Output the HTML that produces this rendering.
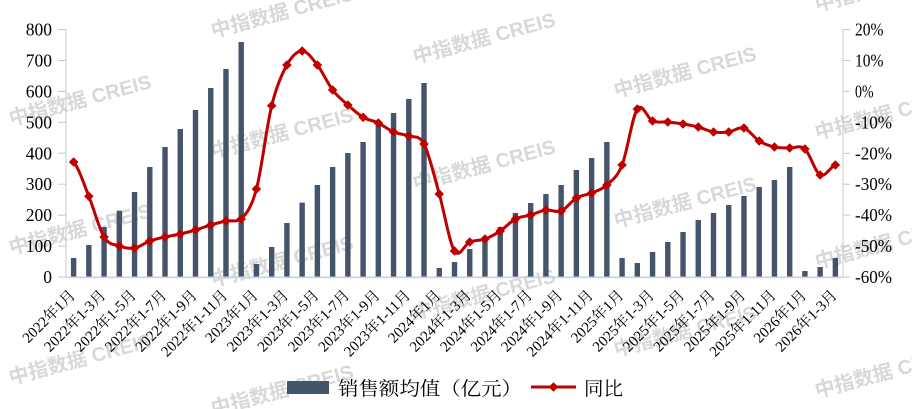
<!DOCTYPE html>
<html><head><meta charset="utf-8"><style>
html,body{margin:0;padding:0;background:#fff;}
svg{display:block;}
.wm{font-family:"Liberation Sans","Noto Sans CJK SC",sans-serif;font-weight:bold;font-size:20px;fill:#d8d8d8;}
.ax{font-family:"Liberation Serif","Noto Serif CJK SC",serif;font-size:17.5px;fill:#000;}
.xl{font-family:"Liberation Serif","Noto Serif CJK SC",serif;font-size:15px;fill:#000;}
.lg{font-family:"Liberation Serif","Noto Serif CJK SC",serif;font-size:19px;fill:#000;}
</style></head><body>
<svg width="912" height="409" viewBox="0 0 912 409" xmlns="http://www.w3.org/2000/svg">
<rect width="912" height="409" fill="#fff"/>
<!-- watermarks -->
<g class="wm" text-anchor="middle">
<text transform="translate(80,100) rotate(-15)" y="7">中指数据 CREIS</text>
<text transform="translate(80,229) rotate(-15)" y="7">中指数据 CREIS</text>
<text transform="translate(80,359) rotate(-15)" y="7">中指数据 CREIS</text>
<text transform="translate(282,12) rotate(-15)" y="7">中指数据 CREIS</text>
<text transform="translate(282,133) rotate(-15)" y="7">中指数据 CREIS</text>
<text transform="translate(282,261) rotate(-15)" y="7">中指数据 CREIS</text>
<text transform="translate(282,390) rotate(-15)" y="7">中指数据 CREIS</text>
<text transform="translate(484,38) rotate(-15)" y="7">中指数据 CREIS</text>
<text transform="translate(484,165) rotate(-15)" y="7">中指数据 CREIS</text>
<text transform="translate(484,294) rotate(-15)" y="7">中指数据 CREIS</text>
<text transform="translate(685,72) rotate(-15)" y="7">中指数据 CREIS</text>
<text transform="translate(685,202) rotate(-15)" y="7">中指数据 CREIS</text>
<text transform="translate(685,331) rotate(-15)" y="7">中指数据 CREIS</text>
<text transform="translate(886,-14) rotate(-15)" y="7">中指数据 CREIS</text>
<text transform="translate(886,114) rotate(-15)" y="7">中指数据 CREIS</text>
<text transform="translate(886,243) rotate(-15)" y="7">中指数据 CREIS</text>
<text transform="translate(886,372) rotate(-15)" y="7">中指数据 CREIS</text>
</g>

<!-- axes -->
<g stroke="#c8c8c8" stroke-width="1" fill="none">
<line x1="66" y1="29.5" x2="66" y2="277"/>
<line x1="58" y1="29.5" x2="66" y2="29.5"/>
<line x1="58" y1="60.44" x2="66" y2="60.44"/>
<line x1="58" y1="91.38" x2="66" y2="91.38"/>
<line x1="58" y1="122.31" x2="66" y2="122.31"/>
<line x1="58" y1="153.25" x2="66" y2="153.25"/>
<line x1="58" y1="184.19" x2="66" y2="184.19"/>
<line x1="58" y1="215.13" x2="66" y2="215.13"/>
<line x1="58" y1="246.06" x2="66" y2="246.06"/>
<line x1="58" y1="277" x2="66" y2="277"/>
<line x1="843" y1="29.5" x2="843" y2="277"/>
<line x1="843" y1="29.5" x2="850" y2="29.5"/>
<line x1="843" y1="60.44" x2="850" y2="60.44"/>
<line x1="843" y1="91.38" x2="850" y2="91.38"/>
<line x1="843" y1="122.31" x2="850" y2="122.31"/>
<line x1="843" y1="153.25" x2="850" y2="153.25"/>
<line x1="843" y1="184.19" x2="850" y2="184.19"/>
<line x1="843" y1="215.13" x2="850" y2="215.13"/>
<line x1="843" y1="246.06" x2="850" y2="246.06"/>
<line x1="843" y1="277" x2="850" y2="277"/>
</g>

<!-- left axis labels -->
<g class="ax" text-anchor="end">
<text x="52" y="35.5">800</text>
<text x="52" y="66.44">700</text>
<text x="52" y="97.38">600</text>
<text x="52" y="128.31">500</text>
<text x="52" y="159.25">400</text>
<text x="52" y="190.19">300</text>
<text x="52" y="221.13">200</text>
<text x="52" y="252.06">100</text>
<text x="52" y="283">0</text>
</g>
<!-- right axis labels -->
<g class="ax">
<text x="855" y="35.5" textLength="28.5" lengthAdjust="spacingAndGlyphs">20%</text>
<text x="855" y="66.44" textLength="28.5" lengthAdjust="spacingAndGlyphs">10%</text>
<text x="855" y="97.38" textLength="18.5" lengthAdjust="spacingAndGlyphs">0%</text>
<text x="855" y="128.31" textLength="37" lengthAdjust="spacingAndGlyphs">-10%</text>
<text x="855" y="159.25" textLength="37" lengthAdjust="spacingAndGlyphs">-20%</text>
<text x="855" y="190.19" textLength="37" lengthAdjust="spacingAndGlyphs">-30%</text>
<text x="855" y="221.13" textLength="37" lengthAdjust="spacingAndGlyphs">-40%</text>
<text x="855" y="252.06" textLength="37" lengthAdjust="spacingAndGlyphs">-50%</text>
<text x="855" y="283" textLength="37" lengthAdjust="spacingAndGlyphs">-60%</text>
</g>

<!-- bars -->
<g fill="#44546a">
<rect x="70.92" y="258" width="5.4" height="19"/>
<rect x="86.15" y="245" width="5.4" height="32"/>
<rect x="101.39" y="227" width="5.4" height="50"/>
<rect x="116.62" y="210.7" width="5.4" height="66.3"/>
<rect x="131.86" y="192" width="5.4" height="85"/>
<rect x="147.09" y="167" width="5.4" height="110"/>
<rect x="162.33" y="147" width="5.4" height="130"/>
<rect x="177.56" y="129" width="5.4" height="148"/>
<rect x="192.80" y="110" width="5.4" height="167"/>
<rect x="208.04" y="88" width="5.4" height="189"/>
<rect x="223.27" y="69" width="5.4" height="208"/>
<rect x="238.51" y="42" width="5.4" height="235"/>
<rect x="253.74" y="264" width="5.4" height="13"/>
<rect x="268.98" y="247" width="5.4" height="30"/>
<rect x="284.21" y="223" width="5.4" height="54"/>
<rect x="299.45" y="202.7" width="5.4" height="74.3"/>
<rect x="314.68" y="185" width="5.4" height="92"/>
<rect x="329.92" y="167" width="5.4" height="110"/>
<rect x="345.15" y="153" width="5.4" height="124"/>
<rect x="360.39" y="142" width="5.4" height="135"/>
<rect x="375.62" y="124" width="5.4" height="153"/>
<rect x="390.86" y="113" width="5.4" height="164"/>
<rect x="406.09" y="99" width="5.4" height="178"/>
<rect x="421.33" y="83" width="5.4" height="194"/>
<rect x="436.56" y="268" width="5.4" height="9"/>
<rect x="451.80" y="262" width="5.4" height="15"/>
<rect x="467.04" y="249" width="5.4" height="28"/>
<rect x="482.27" y="238" width="5.4" height="39"/>
<rect x="497.51" y="227" width="5.4" height="50"/>
<rect x="512.74" y="213" width="5.4" height="64"/>
<rect x="527.98" y="203" width="5.4" height="74"/>
<rect x="543.21" y="194" width="5.4" height="83"/>
<rect x="558.45" y="185" width="5.4" height="92"/>
<rect x="573.68" y="170" width="5.4" height="107"/>
<rect x="588.92" y="158" width="5.4" height="119"/>
<rect x="604.15" y="142" width="5.4" height="135"/>
<rect x="619.39" y="258" width="5.4" height="19"/>
<rect x="634.62" y="263" width="5.4" height="14"/>
<rect x="649.86" y="252" width="5.4" height="25"/>
<rect x="665.09" y="242" width="5.4" height="35"/>
<rect x="680.33" y="232" width="5.4" height="45"/>
<rect x="695.56" y="220" width="5.4" height="57"/>
<rect x="710.80" y="213" width="5.4" height="64"/>
<rect x="726.04" y="205" width="5.4" height="72"/>
<rect x="741.27" y="196" width="5.4" height="81"/>
<rect x="756.51" y="187" width="5.4" height="90"/>
<rect x="771.74" y="180" width="5.4" height="97"/>
<rect x="786.98" y="167" width="5.4" height="110"/>
<rect x="802.21" y="271" width="5.4" height="6"/>
<rect x="817.45" y="267" width="5.4" height="10"/>
<rect x="832.68" y="258" width="5.4" height="19"/>
</g>

<!-- x axis line -->
<line x1="66" y1="277.3" x2="843" y2="277.3" stroke="#d0d0d0" stroke-width="1.6"/>

<!-- line series -->
<path fill="none" stroke="#c00000" stroke-width="3" stroke-linejoin="round" d="M73.62,162
C78.70,167.72 83.77,183.8 88.85,196.3
C93.93,208.8 99.01,228.72 104.09,237
C109.17,245.28 114.24,244.17 119.32,246
C124.40,247.83 129.48,248.83 134.56,248
C139.64,247.17 144.71,242.83 149.79,241
C154.87,239.17 159.95,238.17 165.03,237
C170.11,235.83 175.18,235.17 180.26,234
C185.34,232.83 190.42,231.5 195.50,230
C200.58,228.5 205.66,226.5 210.74,225
C215.82,223.5 220.89,222 225.97,221
C231.05,220 236.13,222.5 241.21,219
C246.29,213.67 251.36,207.88 256.44,189
C261.52,170.12 266.60,126.37 271.68,105.7
C276.76,85.03 281.83,74.12 286.91,65
C291.99,55.88 297.07,51 302.15,51
C307.23,51 312.30,58.5 317.38,65
C322.46,71.5 327.54,83.33 332.62,90
C337.70,96.67 342.77,100.45 347.85,105
C352.93,109.55 358.01,114.3 363.09,117.3
C368.17,120.3 373.24,120.55 378.32,123
C383.40,125.45 388.48,129.83 393.56,132
C398.64,134.17 403.71,134 408.79,136
C413.87,138 418.95,134.33 424.03,144
C429.11,153.67 434.18,176.17 439.26,194
C444.34,211.83 449.42,243 454.50,251
C459.58,259 464.66,244 469.74,242
C474.82,240 479.89,240.83 484.97,239
C490.05,237.17 495.13,234.33 500.21,231
C505.29,227.67 510.36,221.67 515.44,219
C520.52,216.33 525.60,216.5 530.68,215
C535.76,213.5 540.83,210.67 545.91,210
C550.99,209.33 556.07,213 561.15,211
C566.23,209 571.30,201 576.38,198
C581.46,195 586.54,195.17 591.62,193
C596.70,190.83 601.77,189.67 606.85,185
C611.93,180.33 617.01,177.67 622.09,165
C627.17,152.33 632.24,116.33 637.32,109
C642.40,101.67 647.48,118.83 652.56,121
C657.64,123.17 662.71,121.5 667.79,122
C672.87,122.5 677.95,123.17 683.03,124
C688.11,124.83 693.18,125.67 698.26,127
C703.34,128.33 708.42,131.17 713.50,132
C718.58,132.83 723.66,132.67 728.74,132
C733.82,131.33 738.89,126.5 743.97,128
C749.05,129.5 754.13,137.83 759.21,141
C764.29,144.17 769.36,145.83 774.44,147
C779.52,148.17 784.60,147.67 789.68,148
C794.76,148.33 799.83,144.5 804.91,149
C809.99,153.5 815.07,172.33 820.15,175
C825.23,177.67 830.30,166.67 835.38,165"/>

<!-- markers -->
<defs><path id="dm" d="M0,-4.8L4.8,0L0,4.8L-4.8,0Z"/></defs>
<g fill="#c00000">
<use href="#dm" x="73.62" y="162"/>
<use href="#dm" x="88.85" y="196.3"/>
<use href="#dm" x="104.09" y="237"/>
<use href="#dm" x="119.32" y="246"/>
<use href="#dm" x="134.56" y="248"/>
<use href="#dm" x="149.79" y="241"/>
<use href="#dm" x="165.03" y="237"/>
<use href="#dm" x="180.26" y="234"/>
<use href="#dm" x="195.50" y="230"/>
<use href="#dm" x="210.74" y="225"/>
<use href="#dm" x="225.97" y="221"/>
<use href="#dm" x="241.21" y="219"/>
<use href="#dm" x="256.44" y="189"/>
<use href="#dm" x="271.68" y="105.7"/>
<use href="#dm" x="286.91" y="65"/>
<use href="#dm" x="302.15" y="51"/>
<use href="#dm" x="317.38" y="65"/>
<use href="#dm" x="332.62" y="90"/>
<use href="#dm" x="347.85" y="105"/>
<use href="#dm" x="363.09" y="117.3"/>
<use href="#dm" x="378.32" y="123"/>
<use href="#dm" x="393.56" y="132"/>
<use href="#dm" x="408.79" y="136"/>
<use href="#dm" x="424.03" y="144"/>
<use href="#dm" x="439.26" y="194"/>
<use href="#dm" x="454.50" y="251"/>
<use href="#dm" x="469.74" y="242"/>
<use href="#dm" x="484.97" y="239"/>
<use href="#dm" x="500.21" y="231"/>
<use href="#dm" x="515.44" y="219"/>
<use href="#dm" x="530.68" y="215"/>
<use href="#dm" x="545.91" y="210"/>
<use href="#dm" x="561.15" y="211"/>
<use href="#dm" x="576.38" y="198"/>
<use href="#dm" x="591.62" y="193"/>
<use href="#dm" x="606.85" y="185"/>
<use href="#dm" x="622.09" y="165"/>
<use href="#dm" x="637.32" y="109"/>
<use href="#dm" x="652.56" y="121"/>
<use href="#dm" x="667.79" y="122"/>
<use href="#dm" x="683.03" y="124"/>
<use href="#dm" x="698.26" y="127"/>
<use href="#dm" x="713.50" y="132"/>
<use href="#dm" x="728.74" y="132"/>
<use href="#dm" x="743.97" y="128"/>
<use href="#dm" x="759.21" y="141"/>
<use href="#dm" x="774.44" y="147"/>
<use href="#dm" x="789.68" y="148"/>
<use href="#dm" x="804.91" y="149"/>
<use href="#dm" x="820.15" y="175"/>
<use href="#dm" x="835.38" y="165"/>
</g>

<!-- x labels -->
<g class="xl" text-anchor="end">
<text transform="translate(76.1,296) rotate(-45)">2022年1月</text>
<text transform="translate(106.6,296) rotate(-45)">2022年1-3月</text>
<text transform="translate(137.1,296) rotate(-45)">2022年1-5月</text>
<text transform="translate(167.5,296) rotate(-45)">2022年1-7月</text>
<text transform="translate(198.0,296) rotate(-45)">2022年1-9月</text>
<text transform="translate(228.5,296) rotate(-45)">2022年1-11月</text>
<text transform="translate(258.9,296) rotate(-45)">2023年1月</text>
<text transform="translate(289.4,296) rotate(-45)">2023年1-3月</text>
<text transform="translate(319.9,296) rotate(-45)">2023年1-5月</text>
<text transform="translate(350.4,296) rotate(-45)">2023年1-7月</text>
<text transform="translate(380.8,296) rotate(-45)">2023年1-9月</text>
<text transform="translate(411.3,296) rotate(-45)">2023年1-11月</text>
<text transform="translate(441.8,296) rotate(-45)">2024年1月</text>
<text transform="translate(472.2,296) rotate(-45)">2024年1-3月</text>
<text transform="translate(502.7,296) rotate(-45)">2024年1-5月</text>
<text transform="translate(533.2,296) rotate(-45)">2024年1-7月</text>
<text transform="translate(563.6,296) rotate(-45)">2024年1-9月</text>
<text transform="translate(594.1,296) rotate(-45)">2024年1-11月</text>
<text transform="translate(624.6,296) rotate(-45)">2025年1月</text>
<text transform="translate(655.1,296) rotate(-45)">2025年1-3月</text>
<text transform="translate(685.5,296) rotate(-45)">2025年1-5月</text>
<text transform="translate(716.0,296) rotate(-45)">2025年1-7月</text>
<text transform="translate(746.5,296) rotate(-45)">2025年1-9月</text>
<text transform="translate(776.9,296) rotate(-45)">2025年1-11月</text>
<text transform="translate(807.4,296) rotate(-45)">2026年1月</text>
<text transform="translate(837.9,296) rotate(-45)">2026年1-3月</text>
</g>

<!-- legend -->
<rect x="287" y="381" width="42" height="13" fill="#44546a"/>
<text class="lg" x="338" y="395" textLength="184" lengthAdjust="spacingAndGlyphs">销售额均值（亿元）</text>
<line x1="531" y1="387" x2="576" y2="387" stroke="#c00000" stroke-width="3"/>
<use href="#dm" x="553.5" y="387" fill="#c00000"/>
<text class="lg" x="584" y="395" textLength="39" lengthAdjust="spacingAndGlyphs">同比</text>
</svg>
</body></html>
